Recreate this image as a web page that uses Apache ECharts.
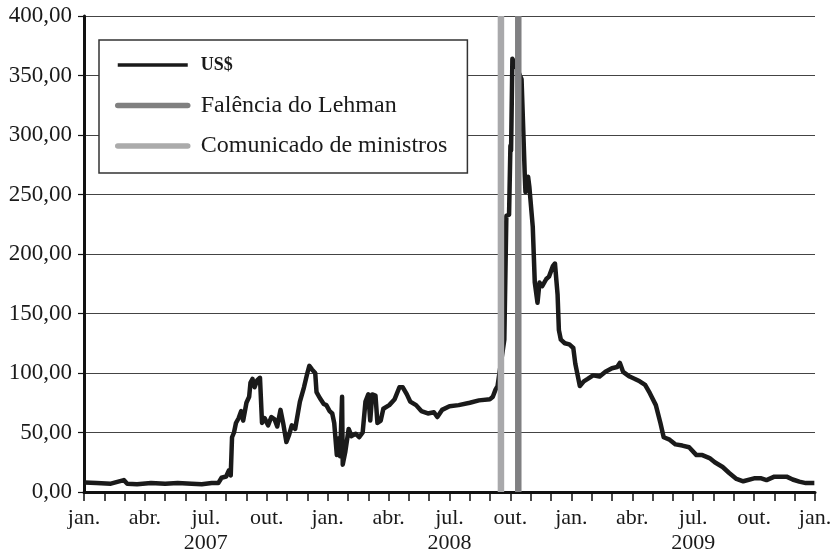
<!DOCTYPE html>
<html>
<head>
<meta charset="utf-8">
<script src="https://cdn.jsdelivr.net/npm/echarts@6/dist/echarts.min.js"></script>
<style>
html,body{margin:0;padding:0;background:#fff;}
#chart{width:834px;height:556px;}
</style>
</head>
<body>
<div id="chart"></div>
<script>
// ---- data ----
const dates = [
 '2007-01-02','2007-01-20','2007-02-10','2007-02-28','2007-03-05','2007-03-20','2007-04-10','2007-05-01',
 '2007-05-20','2007-06-10','2007-06-25','2007-07-10','2007-07-20','2007-07-25','2007-08-01','2007-08-05',
 '2007-08-08','2007-08-10','2007-08-13','2007-08-16','2007-08-20','2007-08-24','2007-08-27','2007-09-01',
 '2007-09-05','2007-09-07','2007-09-10','2007-09-13','2007-09-17','2007-09-21','2007-09-24','2007-09-28',
 '2007-10-03','2007-10-08','2007-10-13','2007-10-17','2007-10-22','2007-10-26','2007-10-31','2007-11-04',
 '2007-11-08','2007-11-13','2007-11-20','2007-11-26','2007-12-01','2007-12-04','2007-12-08','2007-12-13',
 '2007-12-15','2007-12-20','2007-12-26','2007-12-30','2008-01-04','2008-01-08','2008-01-11','2008-01-15',
 '2008-01-17','2008-01-20','2008-01-23','2008-01-24','2008-01-28','2008-02-02','2008-02-06','2008-02-12',
 '2008-02-17','2008-02-22','2008-02-26','2008-03-01','2008-03-04','2008-03-07','2008-03-12','2008-03-15',
 '2008-03-20','2008-03-24','2008-04-02','2008-04-10','2008-04-17','2008-04-22','2008-04-28','2008-05-03',
 '2008-05-12','2008-05-20','2008-05-30','2008-06-08','2008-06-13','2008-06-20','2008-07-01','2008-07-15',
 '2008-08-01','2008-08-15','2008-09-01','2008-09-05','2008-09-09','2008-09-12','2008-09-22','2008-09-25',
 '2008-09-29','2008-10-01','2008-10-02','2008-10-04','2008-10-08','2008-10-14','2008-10-18','2008-10-23',
 '2008-10-24','2008-10-28','2008-10-30','2008-11-04','2008-11-07','2008-11-11','2008-11-14','2008-11-18',
 '2008-11-24','2008-11-28','2008-12-04','2008-12-07','2008-12-11','2008-12-13','2008-12-16','2008-12-22',
 '2008-12-29','2009-01-04','2009-01-07','2009-01-14','2009-01-20','2009-01-26','2009-02-03','2009-02-12',
 '2009-02-20','2009-03-01','2009-03-09','2009-03-13','2009-03-18','2009-03-28','2009-04-05','2009-04-12',
 '2009-04-20','2009-04-27','2009-05-06','2009-05-13','2009-05-18','2009-05-27','2009-06-05','2009-06-15',
 '2009-06-25','2009-07-06','2009-07-15','2009-07-26','2009-08-03','2009-08-15','2009-08-25','2009-09-05',
 '2009-09-15','2009-10-01','2009-10-12','2009-10-20','2009-11-01','2009-11-19','2009-11-28','2009-12-08',
 '2009-12-18','2009-12-31'
];
const usd = [
 8,7.5,7,10,7,6.5,7.5,7,
 7.5,7,6.5,7.5,7.5,12,13,18,
 14,46,50,58,62,68,60,75,
 80,92,95,88,94,96,58,62,
 56,63,61,55,69,58,42,48,
 56,53,76,88,100,106,103,100,
 84,79,74,73,68,66,58,31,
 45,30,80,23,34,53,47,49,
 46,50,76,82,60,82,81,58,
 60,70,73,78,88,88,82,76,
 73,68,66,67,63,69,72,73,
 75,77,78,80,86,89,128,232,
 233,291,287,364,360,352,347,265,
 252,265,256,223,176,159,176,173,
 179,181,190,192,166,136,128,125,
 124,121,108,89,93,95,98,97,
 101,104,105,108.5,101,97,95,93,
 90,83,73,58,46,44,40,39,
 37.6,31,31,28.5,25,21,16,11,
 9,11.5,11.5,10,12.9,12.9,10.5,8.7,
 7.5,7.5
];
const comunicadoDate = '2008-09-17';
const lehmanDate = '2008-10-13';
const monthNames = ['jan.','abr.','jul.','out.'];
const yearNames = ['2007','2008','2009'];
const seriesNames = ['US$','Falência do Lehman','Comunicado de ministros'];

// months elapsed since 2007-01-01 (axis unit = month)
function toMonths(s){
  const p = s.split('-').map(Number);
  const dim = new Date(p[0], p[1], 0).getDate();
  return (p[0]-2007)*12 + (p[1]-1) + (p[2]-1)/dim;
}

const FONT = '"Liberation Serif", "Times New Roman", serif';
const chart = echarts.init(document.getElementById('chart'), null, {renderer:'canvas'});
chart.setOption({
  animation:false,
  backgroundColor:'#fff',
  grid:{left:84, right:19, top:16, bottom:64, outerBoundsMode:'none', containLabel:false},
  legend:{
    orient:'vertical', left:99, top:40,
    backgroundColor:'#fff', borderColor:'#333', borderWidth:1.5,
    padding:[13,20,15,16],
    itemWidth:70, itemHeight:24, itemGap:16.5,
    itemStyle:{opacity:0},
    data:[
      {name:seriesNames[0], itemStyle:{opacity:0}, lineStyle:{width:3.5, color:'#1a1a1a'}},
      {name:seriesNames[1], itemStyle:{opacity:0}, lineStyle:{width:5.5, color:'#808080', cap:'round'}},
      {name:seriesNames[2], itemStyle:{opacity:0}, lineStyle:{width:5.5, color:'#ababab', cap:'round'}}
    ],
    formatter: n => n === 'US$' ? '{sc|US$}' : n,
    textStyle:{fontFamily:FONT, fontSize:24, color:'#1a1a1a', lineHeight:24, padding:[0,0,0,8],
      rich:{sc:{fontFamily:FONT, fontSize:18, fontWeight:'bold', color:'#1a1a1a'}}}
  },
  xAxis:{
    type:'value', min:0, max:36, interval:1,
    axisLine:{show:true, onZero:false, lineStyle:{color:'#111', width:3}},
    axisTick:{show:true, length:9, lineStyle:{color:'#111', width:1.5}},
    splitLine:{show:false},
    axisLabel:{
      fontFamily:FONT, fontSize:22, color:'#1a1a1a', margin:14, lineHeight:25,
      showMinLabel:true, showMaxLabel:true,
      formatter: v => {
        const r = Math.round(v);
        if (r % 3 !== 0) return '';
        const name = monthNames[(r % 12)/3];
        if (r % 12 === 6) return name + '\n' + yearNames[Math.floor(r/12)];
        return name;
      }
    }
  },
  yAxis:{
    type:'value', min:0, max:400, interval:50,
    axisLine:{show:true, lineStyle:{color:'#111', width:3}},
    axisTick:{show:true, length:6, lineStyle:{color:'#111', width:1.2}},
    splitLine:{show:true, lineStyle:{color:'#444', width:1.2}},
    axisLabel:{fontFamily:FONT, fontSize:23, color:'#1a1a1a', margin:12,
      formatter: v => v.toFixed(2).replace('.', ',')}
  },
  series:[
    {name:seriesNames[0], type:'line', symbol:'none', showSymbol:false,
     lineStyle:{color:'#1a1a1a', width:4.5, join:'round'}, itemStyle:{color:'#1a1a1a'},
     data: dates.map((d,i) => [toMonths(d), usd[i]])},
    {name:seriesNames[1], type:'line', symbol:'none', showSymbol:false,
     lineStyle:{color:'#808082', width:6.5}, itemStyle:{color:'#808080'},
     data:[[toMonths(lehmanDate),0],[toMonths(lehmanDate),400]]},
    {name:seriesNames[2], type:'line', symbol:'none', showSymbol:false,
     lineStyle:{color:'#a9a9ab', width:6.5}, itemStyle:{color:'#ababab'},
     data:[[toMonths(comunicadoDate),0],[toMonths(comunicadoDate),400]]}
  ]
});
</script>
</body>
</html>
